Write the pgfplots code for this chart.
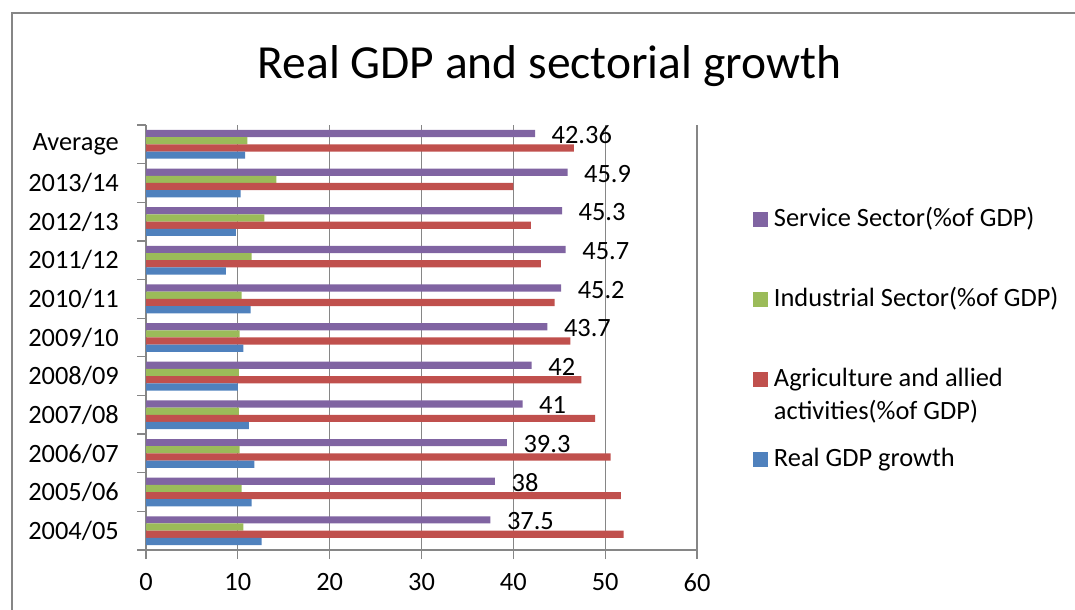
\documentclass[border=0pt]{standalone}
\usepackage{fontspec}
\setmainfont{Carlito}
\usepackage{pgfplots}
\pgfplotsset{compat=1.18}
\definecolor{cBlue}{HTML}{4F81BD}
\definecolor{cRed}{HTML}{C0504D}
\definecolor{cGreen}{HTML}{9BBB59}
\definecolor{cPurple}{HTML}{8064A2}
\definecolor{cAxis}{HTML}{868686}
\newcommand{\lblfont}{\fontsize{26.4bp}{33bp}\selectfont}
\begin{document}
\begin{tikzpicture}
\path[use as bounding box] (0bp,0bp) rectangle (1075bp,610bp);
\draw[cAxis, line width=1.3bp] (12bp,-20bp) -- (12bp,597bp) -- (1100bp,597bp);
\begin{axis}[
  at={(146bp,60bp)}, anchor=south west,
  scale only axis, width=551bp, height=425bp,
  xmin=0, xmax=60, ymin=-0.5, ymax=10.5,
  enlargelimits=false,
  xbar, bar width=7.2bp,
  axis x line*=bottom, axis y line*=left,
  axis line style={cAxis, line width=1.3bp},
  xtick={0,10,...,60},
  xmajorgrids, grid style={cAxis, line width=1.3bp},
  tick align=outside,
  major tick length=9bp,
  tick style={cAxis, line width=1.3bp},
  ytick={-0.5,0.5,...,10.5},
  yticklabels={},
  extra y ticks={0,1,...,10},
  extra y tick labels={2004/05,2005/06,2006/07,2007/08,2008/09,2009/10,2010/11,2011/12,2012/13,2013/14,Average},
  extra y tick style={major tick length=0pt, tick style={draw=none}},
  tick label style={font=\lblfont},
  /pgf/number format/assume math mode=true,
  xticklabel style={inner sep=0pt, yshift=-14bp},
  yticklabel style={inner sep=0pt, xshift=-27bp},
  title={Real GDP and sectorial growth},
  title style={font=\fontsize{47.5bp}{57bp}\selectfont, at={(0.7323,1.095)}, anchor=base, inner sep=0pt, yshift=0pt},
  legend cell align=left,
  legend style={draw=none, fill=none, inner sep=0pt, outer sep=0pt, at={(1.1016,0.8024)}, anchor=north west, row sep=56bp, column sep=6bp, font=\lblfont, nodes={inner sep=0pt, text height=18bp, text depth=6bp}, cells={anchor=base west}},
  legend image code/.code={\fill[#1] (0bp,0bp) rectangle (15bp,15bp);},
]
\addplot[fill=cPurple, draw=none, bar shift=10.8bp, nodes near coords, point meta=explicit symbolic,
  every node near coord/.append style={anchor=west, inner sep=0pt, xshift=16.5bp, yshift=-1.5bp, font=\lblfont, text=black}]
  coordinates {(37.5,0) [37.5] (38,1) [38] (39.3,2) [39.3] (41,3) [41] (42,4) [42] (43.7,5) [43.7]
               (45.2,6) [45.2] (45.7,7) [45.7] (45.3,8) [45.3] (45.9,9) [45.9] (42.36,10) [42.36]};
\addlegendentry{Service Sector(\%of GDP)}
\addplot[fill=cGreen, draw=none, bar shift=3.6bp]
  coordinates {(10.6,0) (10.4,1) (10.2,2) (10.1,3) (10.1,4) (10.2,5) (10.4,6) (11.5,7) (12.9,8) (14.2,9) (11.05,10)};
\addlegendentry{Industrial Sector(\%of GDP)}
\addplot[fill=cRed, draw=none, bar shift=-3.6bp]
  coordinates {(52.0,0) (51.7,1) (50.6,2) (48.9,3) (47.4,4) (46.2,5) (44.5,6) (43.0,7) (41.9,8) (40.0,9) (46.6,10)};
\addlegendentry{\vtop{\hbox{Agriculture and allied}\hbox{activities(\%of GDP)}}}
\addplot[fill=cBlue, draw=none, bar shift=-10.8bp]
  coordinates {(12.6,0) (11.5,1) (11.8,2) (11.2,3) (10.0,4) (10.6,5) (11.4,6) (8.7,7) (9.8,8) (10.3,9) (10.8,10)};
\addlegendentry{Real GDP growth}
\end{axis}
\end{tikzpicture}
\end{document}
